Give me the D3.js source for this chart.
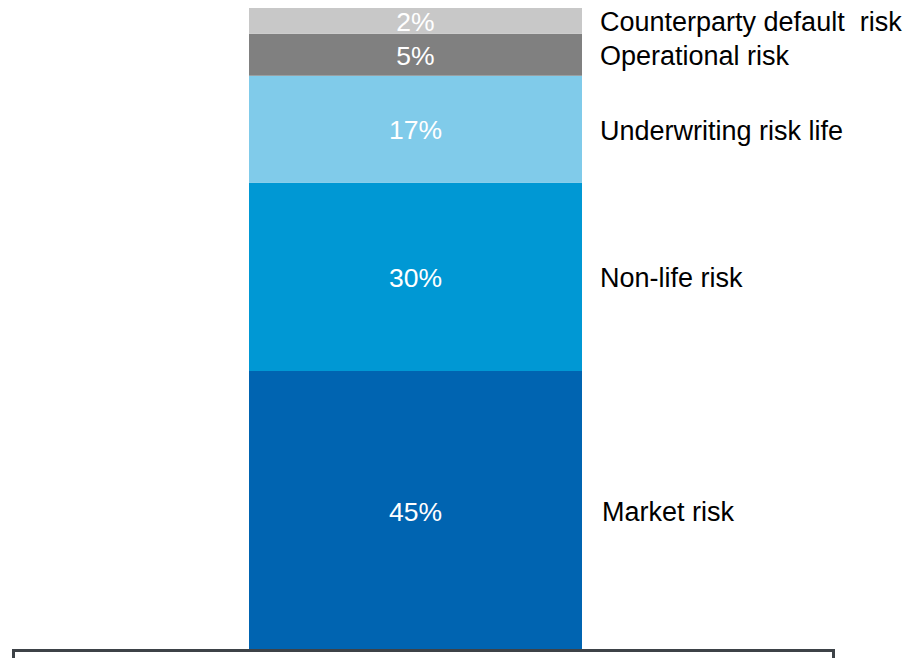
<!DOCTYPE html>
<html>
<head>
<meta charset="utf-8">
<script src="https://cdn.jsdelivr.net/npm/d3@7"></script>
<style>
  body { margin: 0; background: #fff; }
  svg text { font-family: "Liberation Sans", Arial, sans-serif; }
</style>
</head>
<body>
<div id="chart"></div>
<script>
// segments from bottom to top
var categories = ["Market risk", "Non-life risk", "Underwriting risk life", "Operational risk", "Counterparty default  risk"];
var values = [44.5, 30, 17.1, 6.7, 4.1]; // segment sizes as drawn
var pctLabels = ["45%", "30%", "17%", "5%", "2%"];
var colors = ["#0064b1", "#0098d4", "#80cbea", "#808080", "#c8c8c8"];

var w = 910, h = 658;

var svg = d3.select("#chart").append("svg")
    .attr("width", w)
    .attr("height", h);

// stack the values
var data = [];
var acc = 0;
values.forEach(function(v, i) {
    data.push({ cat: categories[i], y0: acc, y1: acc + v, label: pctLabels[i], color: colors[i] });
    acc += v;
});

var xScale = d3.scaleBand().domain(["bar"]).range([249, 582]).padding(0);
var yScale = d3.scaleLinear().domain([0, acc]).range([650, 8]);

svg.selectAll("rect.seg")
    .data(data)
    .enter().append("rect")
    .attr("class", "seg")
    .attr("x", xScale("bar"))
    .attr("width", xScale.bandwidth())
    .attr("y", function(d) { return yScale(d.y1); })
    .attr("height", function(d) { return yScale(d.y0) - yScale(d.y1); })
    .attr("fill", function(d) { return d.color; });

// percentage labels inside the bar
svg.selectAll("text.pct")
    .data(data)
    .enter().append("text")
    .attr("class", "pct")
    .attr("x", xScale("bar") + xScale.bandwidth() / 2)
    .attr("y", function(d) { return yScale((d.y0 + d.y1) / 2); })
    .attr("dy", "0.38em")
    .attr("text-anchor", "middle")
    .attr("fill", "#fff")
    .attr("font-size", "26.5px")
    .text(function(d) { return d.label; });

// category names on the right
svg.selectAll("text.cat")
    .data(data)
    .enter().append("text")
    .attr("class", "cat")
    .attr("x", function(d, i) { return i == 0 ? 602 : 600; })
    .attr("y", function(d) { return yScale((d.y0 + d.y1) / 2); })
    .attr("dy", "0.38em")
    .attr("fill", "#000")
    .attr("font-size", "27px")
    .style("white-space", "pre")
    .attr("xml:space", "preserve")
    .text(function(d) { return d.cat; });

// box below the chart
svg.append("rect")
    .attr("x", 13.5)
    .attr("y", 650.5)
    .attr("width", 820)
    .attr("height", 40)
    .attr("fill", "#fff")
    .attr("stroke", "#3d4247")
    .attr("stroke-width", 3);
</script>
</body>
</html>
